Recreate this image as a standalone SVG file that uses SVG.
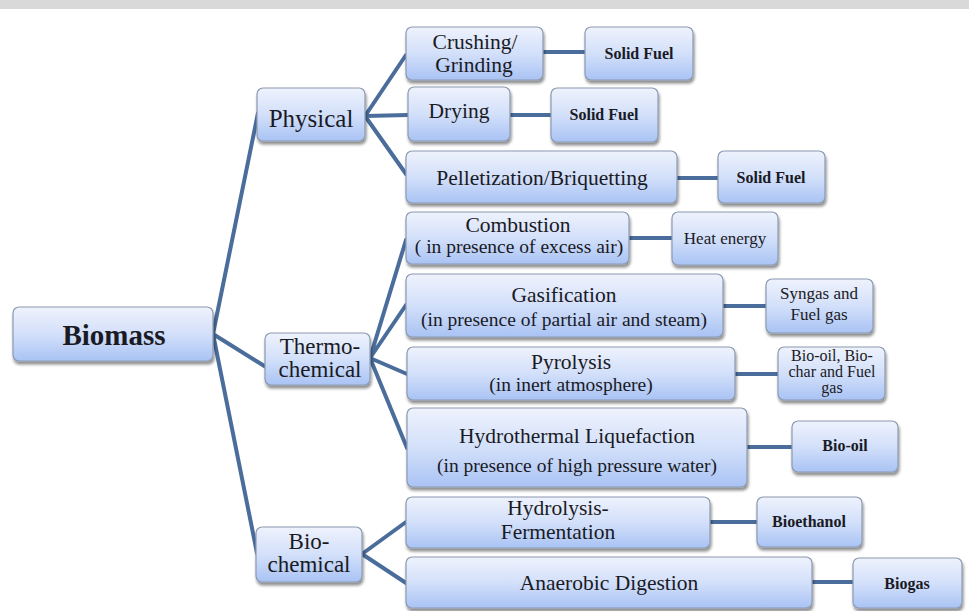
<svg xmlns="http://www.w3.org/2000/svg" width="969" height="611" viewBox="0 0 969 611" font-family="'Liberation Serif', 'Times New Roman', Tinos, 'DejaVu Serif', serif">
<defs>
<linearGradient id="g" x1="0" y1="0" x2="0" y2="1">
<stop offset="0" stop-color="#eef2fc"/>
<stop offset="0.5" stop-color="#d3e0fa"/>
<stop offset="1" stop-color="#a9c3f4"/>
</linearGradient>
<filter id="sh" x="-10%" y="-10%" width="125%" height="135%">
<feGaussianBlur in="SourceAlpha" stdDeviation="1.5"/>
<feOffset dx="1" dy="2.5" result="o"/>
<feComponentTransfer><feFuncA type="linear" slope="0.45"/></feComponentTransfer>
<feMerge><feMergeNode/><feMergeNode in="SourceGraphic"/></feMerge>
</filter>
<style>
.b{fill:url(#g);stroke:#8c9ab2;stroke-width:1.2;filter:url(#sh)}
.t{fill:#1a1a24;text-anchor:middle}
.m{font-size:21.5px}
.s{font-size:19.5px}
.p{font-size:16px;font-weight:bold}
.r{font-size:17px}
.c{stroke:#4b6d9c;stroke-width:4;fill:none;stroke-linecap:round}
</style>
</defs>
<rect width="969" height="611" fill="#ffffff"/>
<rect width="969" height="9" fill="#d9d9d9"/>
<g id="connectors">
<path class="c" d="M213 334 L258 113 M213 334 L266 367 M213 334 L257 553"/>
<path class="c" d="M365 116 L406 55 M365 116 L408 115 M365 116 L406 174"/>
<path class="c" d="M370 358 L406 240 M370 358 L406 305 M370 358 L407 374 M370 358 L407 448"/>
<path class="c" d="M362 554 L406 522 M362 554 L406 583"/>
<path class="c" d="M543 52 H585 M510 115 H551 M677 178 H718 M629 238 H672 M723 306 H766 M735 374 H778 M747 447 H792 M710 522 H757 M812 582 H853"/>
</g>
<g id="biomass"><rect class="b" x="13" y="307" width="200" height="54" rx="6"/><text class="t" x="114" y="345" font-size="29" font-weight="bold">Biomass</text></g>
<g id="physical"><rect class="b" x="257" y="88" width="108" height="53" rx="6"/><text class="t" x="311" y="127" font-size="25">Physical</text></g>
<g id="crushing"><rect class="b" x="406" y="27" width="137" height="53" rx="6"/><text class="t m" x="475" y="49">Crushing/</text><text class="t m" x="474" y="72">Grinding</text></g>
<g id="solidfuel1"><rect class="b" x="585" y="27" width="108" height="53" rx="6"/><text class="t p" x="639" y="59">Solid Fuel</text></g>
<g id="drying"><rect class="b" x="408" y="87" width="102" height="54" rx="6"/><text class="t m" x="459" y="118">Drying</text></g>
<g id="solidfuel2"><rect class="b" x="551" y="88" width="107" height="54" rx="6"/><text class="t p" x="604" y="120">Solid Fuel</text></g>
<g id="pelletization"><rect class="b" x="406" y="151" width="271" height="52" rx="6"/><text class="t m" x="542" y="185">Pelletization/Briquetting</text></g>
<g id="solidfuel3"><rect class="b" x="718" y="151" width="107" height="52" rx="6"/><text class="t p" x="771" y="183">Solid Fuel</text></g>
<g id="thermochemical"><rect class="b" x="265" y="333" width="105" height="52" rx="6"/><text class="t" x="320" y="354" font-size="23">Thermo-</text><text class="t" x="320" y="377" font-size="23">chemical</text></g>
<g id="combustion"><rect class="b" x="406" y="212" width="223" height="52" rx="6"/><text class="t m" x="518" y="232">Combustion</text><text class="t s" x="519" y="253">( in presence of excess air)</text></g>
<g id="heat"><rect class="b" x="672" y="212" width="106" height="53" rx="6"/><text class="t r" x="725" y="244">Heat energy</text></g>
<g id="gasification"><rect class="b" x="406" y="274" width="317" height="63" rx="6"/><text class="t m" x="564" y="302">Gasification</text><text class="t s" x="564" y="326">(in presence of partial air and steam)</text></g>
<g id="syngas"><rect class="b" x="766" y="279" width="107" height="54" rx="6"/><text class="t r" x="819" y="299">Syngas and</text><text class="t r" x="819" y="320">Fuel gas</text></g>
<g id="pyrolysis"><rect class="b" x="407" y="347" width="328" height="53" rx="6"/><text class="t m" x="571" y="369">Pyrolysis</text><text class="t s" x="571" y="391">(in inert atmosphere)</text></g>
<g id="biooilcharg"><rect class="b" x="778" y="347" width="107" height="53" rx="6"/><text class="t" x="832" y="361" font-size="16">Bio-oil, Bio-</text><text class="t" x="832" y="377" font-size="16">char and Fuel</text><text class="t" x="832" y="393" font-size="16">gas</text></g>
<g id="hydrothermal"><rect class="b" x="407" y="408" width="340" height="79" rx="6"/><text class="t m" x="577" y="443">Hydrothermal Liquefaction</text><text class="t s" x="577" y="472">(in presence of high pressure water)</text></g>
<g id="biooil"><rect class="b" x="792" y="421" width="106" height="51" rx="6"/><text class="t p" x="845" y="451">Bio-oil</text></g>
<g id="biochemical"><rect class="b" x="256" y="527" width="106" height="55" rx="6"/><text class="t" x="309" y="549" font-size="23">Bio-</text><text class="t" x="309" y="572" font-size="23">chemical</text></g>
<g id="hydrolysis"><rect class="b" x="406" y="497" width="304" height="51" rx="6"/><text class="t m" x="558" y="515">Hydrolysis-</text><text class="t m" x="558" y="539">Fermentation</text></g>
<g id="bioethanol"><rect class="b" x="757" y="497" width="105" height="50" rx="6"/><text class="t p" x="809" y="527">Bioethanol</text></g>
<g id="anaerobic"><rect class="b" x="406" y="557" width="406" height="51" rx="6"/><text class="t m" x="609" y="590">Anaerobic Digestion</text></g>
<g id="biogas"><rect class="b" x="853" y="558" width="109" height="50" rx="6"/><text class="t p" x="907" y="589">Biogas</text></g>
</svg>
